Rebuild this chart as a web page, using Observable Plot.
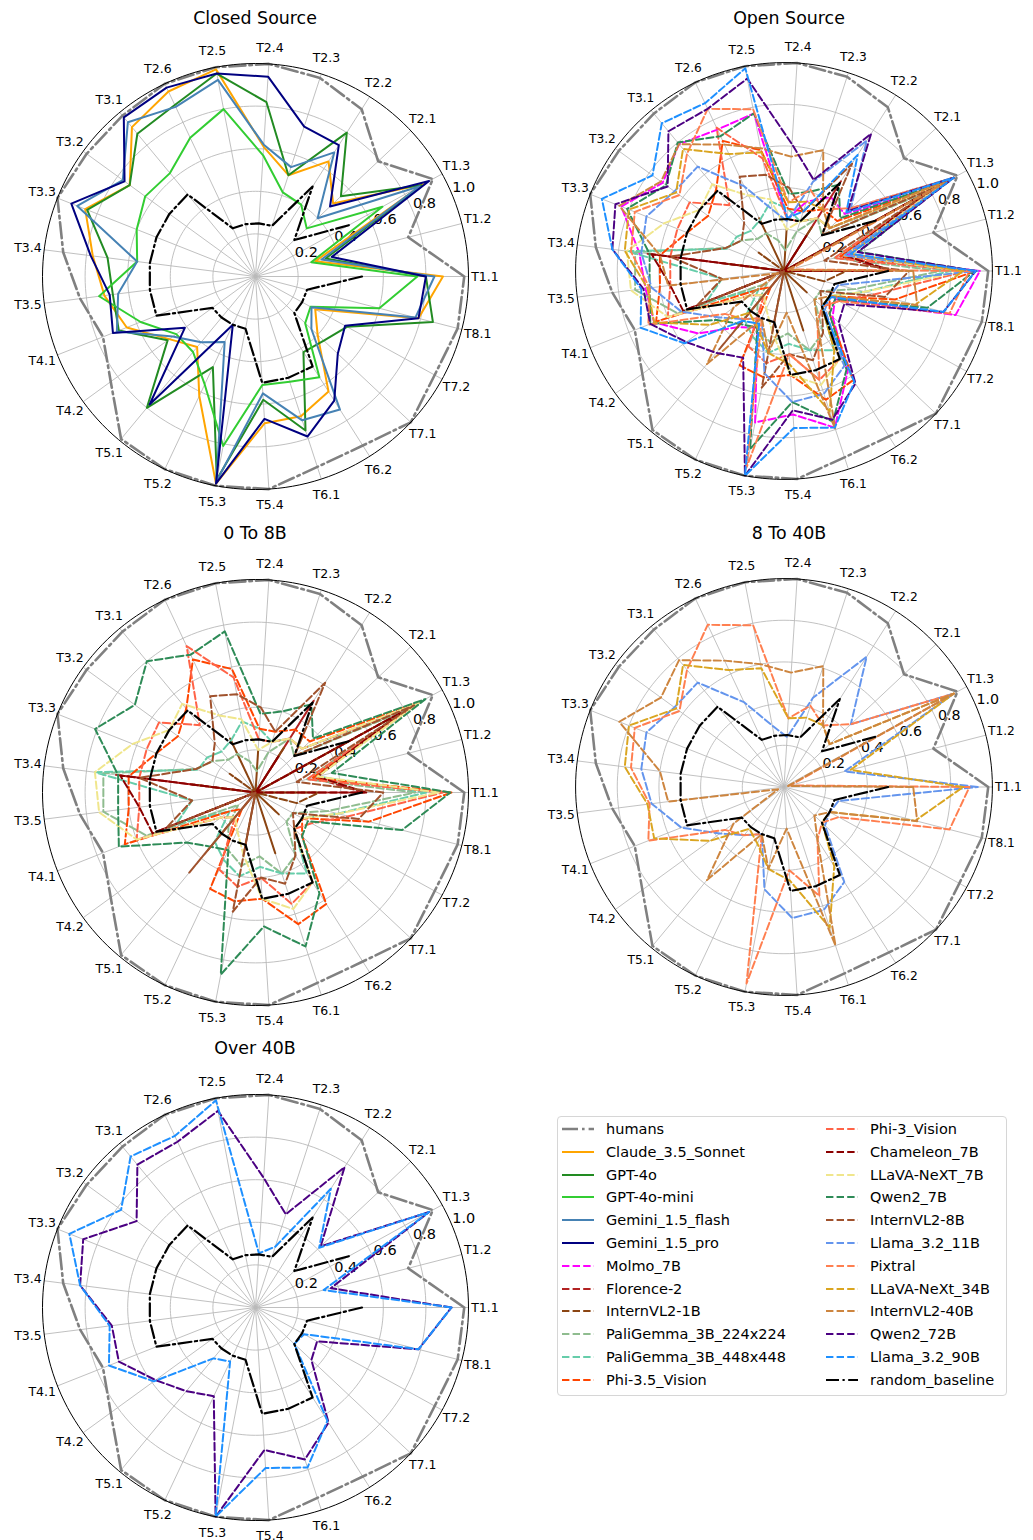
<!DOCTYPE html>
<html>
<head>
<meta charset="utf-8">
<script src="https://cdn.jsdelivr.net/npm/d3@7"></script>
<script src="https://cdn.jsdelivr.net/npm/@observablehq/plot@0.6"></script>
<style>
  body { margin: 0; background: #fff; overflow: hidden; font-family: "DejaVu Sans", sans-serif; }
  #root { position: relative; width: 1033px; height: 1540px; }
  .panel { position: absolute; }
  .title { position: absolute; width: 400px; text-align: center; font-size: 17.4px; line-height: 20px; color: #000; }
  .legend { position: absolute; border: 1px solid #d6d6d6; border-radius: 4px; background: #fff; }
  .lg-item { position: absolute; font-size: 14.5px; line-height: 18px; color: #000; white-space: nowrap; }
  .lg-item svg { position: absolute; left: 0; top: 4px; overflow: visible; }
  .lg-item span { position: absolute; left: 44px; top: 0; }
</style>
</head>
<body>
<div id="root"></div>
<script>
// ---------------- data ----------------
const categories = ["T1.1","T1.2","T1.3","T2.1","T2.2","T2.3","T2.4","T2.5","T2.6","T3.1","T3.2","T3.3","T3.4","T3.5","T4.1","T4.2","T5.1","T5.2","T5.3","T5.4","T6.1","T6.2","T7.1","T7.2","T8.1"];
const radialTicks = [0.2, 0.4, 0.6, 0.8, 1.0];

const humans            = [0.98,0.74,0.95,0.79,0.93,0.98,1.00,1.00,1.00,0.98,0.98,1.00,0.91,0.83,0.77,0.84,0.99,1.00,1.00,1.00,0.94,0.94,1.00,0.96,0.98];
const claude_3_5_sonnet = [0.88,0.29,0.90,0.50,0.64,0.50,0.61,0.99,0.96,0.91,0.73,0.86,0.77,0.715,0.65,0.50,0.43,0.62,0.99,0.69,0.69,0.64,0.40,0.32,0.79];
const gpt_4o            = [0.80,0.34,0.89,0.55,0.80,0.50,0.82,0.97,0.89,0.87,0.73,0.85,0.70,0.675,0.69,0.51,0.80,0.47,0.97,0.58,0.76,0.42,0.44,0.49,0.86];
const gpt_4o_mini       = [0.76,0.27,0.68,0.33,0.40,0.415,0.57,0.80,0.72,0.63,0.64,0.60,0.56,0.74,0.58,0.46,0.46,0.56,0.81,0.51,0.52,0.56,0.32,0.295,0.60];
const gemini_1_5_flash  = [0.84,0.32,0.88,0.40,0.69,0.54,0.62,0.94,0.88,0.94,0.77,0.90,0.56,0.65,0.70,0.48,0.40,0.34,0.98,0.55,0.71,0.74,0.36,0.30,0.775];
const gemini_1_5_pro    = [0.80,0.37,0.93,0.48,0.73,0.74,0.94,0.97,0.98,0.97,0.76,0.93,0.78,0.69,0.72,0.41,0.78,0.25,0.99,0.67,0.79,0.69,0.53,0.48,0.79];
const molmo_7b          = [0.94,0.31,0.85,0.40,0.42,0.35,0.25,0.77,0.75,0.79,0.72,0.84,0.70,0.67,0.67,0.51,0.35,0.30,0.74,0.69,0.79,0.57,0.32,0.28,0.85];
const florence_2        = [0.51,0.28,0.80,0.00,0.51,0.00,0.00,0.00,0.00,0.00,0.00,0.00,0.66,0.00,0.50,0.00,0.00,0.00,0.00,0.00,0.00,0.00,0.00,0.00,0.00];
const internvl2_1b      = [0.30,0.00,0.72,0.00,0.25,0.00,0.20,0.00,0.28,0.00,0.15,0.00,0.30,0.00,0.25,0.00,0.35,0.00,0.30,0.00,0.30,0.00,0.15,0.00,0.20];
const paligemma_224     = [0.75,0.25,0.80,0.25,0.30,0.20,0.10,0.15,0.20,0.20,0.25,0.30,0.72,0.72,0.55,0.10,0.20,0.30,0.35,0.30,0.40,0.35,0.20,0.20,0.35];
const paligemma_448     = [0.80,0.30,0.82,0.30,0.30,0.25,0.30,0.34,0.27,0.25,0.28,0.29,0.76,0.30,0.40,0.15,0.30,0.35,0.40,0.35,0.40,0.45,0.25,0.25,0.40];
const phi_3_5_vision    = [0.92,0.28,0.88,0.35,0.35,0.30,0.30,0.59,0.69,0.51,0.45,0.50,0.60,0.60,0.66,0.15,0.10,0.50,0.52,0.50,0.65,0.62,0.30,0.25,0.55];
const phi_3_vision      = [0.88,0.25,0.85,0.30,0.30,0.25,0.25,0.55,0.76,0.41,0.56,0.55,0.55,0.55,0.60,0.20,0.15,0.40,0.45,0.40,0.55,0.50,0.25,0.30,0.45];
const chameleon_7b      = [0.52,0.30,0.78,0.00,0.20,0.00,0.00,0.00,0.00,0.00,0.00,0.00,0.64,0.55,0.52,0.00,0.00,0.00,0.00,0.00,0.00,0.00,0.00,0.00,0.00];
const llava_next_7b     = [0.86,0.30,0.88,0.30,0.30,0.25,0.20,0.35,0.40,0.54,0.50,0.62,0.76,0.74,0.60,0.20,0.15,0.20,0.30,0.50,0.575,0.50,0.25,0.25,0.40];
const qwen2_7b          = [0.915,0.37,0.91,0.37,0.49,0.40,0.37,0.77,0.715,0.80,0.70,0.81,0.65,0.65,0.69,0.40,0.33,0.30,0.87,0.63,0.76,0.56,0.30,0.28,0.71];
const internvl2_8b      = [0.60,0.20,0.85,0.25,0.61,0.30,0.40,0.47,0.50,0.30,0.25,0.30,0.55,0.30,0.45,0.00,0.49,0.00,0.57,0.40,0.45,0.35,0.25,0.20,0.50];
const llama_3_2_11b     = [0.93,0.30,0.93,0.44,0.74,0.45,0.24,0.30,0.45,0.65,0.65,0.71,0.69,0.64,0.53,0.38,0.30,0.25,0.50,0.63,0.62,0.54,0.27,0.25,0.27];
const pixtral           = [0.89,0.03,0.93,0.44,0.35,0.41,0.33,0.79,0.86,0.73,0.62,0.77,0.74,0.65,0.70,0.35,0.30,0.25,0.96,0.40,0.55,0.30,0.25,0.30,0.82];
const llava_next_34b    = [0.86,0.33,0.93,0.30,0.35,0.35,0.33,0.58,0.62,0.76,0.64,0.80,0.77,0.66,0.67,0.44,0.26,0.30,0.40,0.45,0.71,0.45,0.25,0.25,0.65];
const internvl2_40b     = [0.62,0.02,0.93,0.30,0.35,0.61,0.55,0.60,0.67,0.79,0.73,0.85,0.60,0.56,0.03,0.30,0.58,0.25,0.40,0.20,0.80,0.30,0.20,0.25,0.66];
const qwen2_72b         = [0.92,0.365,0.93,0.42,0.78,0.46,0.61,0.94,0.86,0.87,0.69,0.87,0.83,0.68,0.69,0.58,0.51,0.46,1.00,0.67,0.75,0.64,0.36,0.33,0.79];
const llama_3_2_90b     = [0.92,0.33,0.93,0.41,0.66,0.30,0.255,0.99,0.89,0.92,0.78,0.94,0.83,0.69,0.74,0.59,0.31,0.28,1.00,0.755,0.79,0.63,0.25,0.26,0.79];
const random_baseline   = [0.50,null,0.50,0.25,0.50,0.25,0.25,0.25,0.25,0.50,0.50,0.50,0.50,0.50,0.50,0.25,0.25,0.25,0.25,0.50,0.50,0.50,0.25,0.25,0.25];

const seriesValues = {
  "humans": humans,
  "Claude_3.5_Sonnet": claude_3_5_sonnet,
  "GPT-4o": gpt_4o,
  "GPT-4o-mini": gpt_4o_mini,
  "Gemini_1.5_flash": gemini_1_5_flash,
  "Gemini_1.5_pro": gemini_1_5_pro,
  "Molmo_7B": molmo_7b,
  "Florence-2": florence_2,
  "InternVL2-1B": internvl2_1b,
  "PaliGemma_3B_224x224": paligemma_224,
  "PaliGemma_3B_448x448": paligemma_448,
  "Phi-3.5_Vision": phi_3_5_vision,
  "Phi-3_Vision": phi_3_vision,
  "Chameleon_7B": chameleon_7b,
  "LLaVA-NeXT_7B": llava_next_7b,
  "Qwen2_7B": qwen2_7b,
  "InternVL2-8B": internvl2_8b,
  "Llama_3.2_11B": llama_3_2_11b,
  "Pixtral": pixtral,
  "LLaVA-NeXt_34B": llava_next_34b,
  "InternVL2-40B": internvl2_40b,
  "Qwen2_72B": qwen2_72b,
  "Llama_3.2_90B": llama_3_2_90b,
  "random_baseline": random_baseline
};
const legendOrder = Object.keys(seriesValues);

// panel membership
const closedModels = ["Claude_3.5_Sonnet","GPT-4o","GPT-4o-mini","Gemini_1.5_flash","Gemini_1.5_pro"];
const small = ["Florence-2","InternVL2-1B","PaliGemma_3B_224x224","PaliGemma_3B_448x448","Phi-3.5_Vision","Phi-3_Vision","Chameleon_7B","LLaVA-NeXT_7B","Qwen2_7B","InternVL2-8B"];
const medium = ["Llama_3.2_11B","Pixtral","LLaVA-NeXt_34B","InternVL2-40B"];
const large = ["Qwen2_72B","Llama_3.2_90B"];
const openModels = ["Molmo_7B", ...small, ...medium, ...large];

// ---------------- styles ----------------
const colors = {
  "humans": "#808080", "Claude_3.5_Sonnet": "#FFA500", "GPT-4o": "#228B22", "GPT-4o-mini": "#32CD32",
  "Gemini_1.5_flash": "#4682B4", "Gemini_1.5_pro": "#000080", "Molmo_7B": "#FF00FF", "Florence-2": "#B22222",
  "InternVL2-1B": "#8B4513", "PaliGemma_3B_224x224": "#8FBC8F", "PaliGemma_3B_448x448": "#66CDAA",
  "Phi-3.5_Vision": "#FF4500", "Phi-3_Vision": "#FF6347", "Chameleon_7B": "#8B0000", "LLaVA-NeXT_7B": "#F0E68C",
  "Qwen2_7B": "#2E8B57", "InternVL2-8B": "#A0522D", "Llama_3.2_11B": "#6495ED", "Pixtral": "#FF7F50",
  "LLaVA-NeXt_34B": "#DAA520", "InternVL2-40B": "#CD853F", "Qwen2_72B": "#4B0082", "Llama_3.2_90B": "#1E90FF",
  "random_baseline": "#000000"
};
function styleOf(name) {
  if (name === "humans") return {strokeWidth: 2.6, strokeDasharray: "16,4,2.6,4"};
  if (name === "random_baseline") return {strokeWidth: 2.2, strokeDasharray: "13,3.5,2.2,3.5"};
  if (closedModels.includes(name)) return {strokeWidth: 2, strokeDasharray: null};
  return {strokeWidth: 2, strokeDasharray: "7.4,3.2"};
}

// ---------------- geometry ----------------
const N = categories.length;
const ang = k => k * 2 * Math.PI / N;
const RPX = 213;          // pixel radius of r = 1
const HALF = 255;         // half size of each panel svg
const EXT = HALF / RPX;

function seriesRows(name) {
  const v = seriesValues[name];
  const rows = [];
  for (let i = 0; i <= N; i++) {
    const k = i % N, val = v[k];
    const ok = val !== null && val !== undefined;
    rows.push({k, x: ok ? val * Math.cos(ang(k)) : NaN, y: ok ? val * Math.sin(ang(k)) : NaN});
  }
  return rows;
}
function ringRows(r) {
  return d3.range(0, 361, 2).map(t => ({r, x: r * Math.cos(t * Math.PI / 180), y: r * Math.sin(t * Math.PI / 180)}));
}

function radar(names) {
  const rings = radialTicks.slice(0, -1).flatMap(ringRows);
  const gridColor = "#b9b9b9";
  const marks = [
    Plot.line(rings, {x: "x", y: "y", z: "r", stroke: gridColor, strokeWidth: 0.9}),
    Plot.link(categories, {x1: () => 0, y1: () => 0, x2: (d, k) => Math.cos(ang(k)), y2: (d, k) => Math.sin(ang(k)), stroke: gridColor, strokeWidth: 0.9}),
    Plot.text(categories, {x: (d, k) => 1.077 * Math.cos(ang(k)), y: (d, k) => 1.077 * Math.sin(ang(k)), text: d => d, fontSize: 12.5, fill: "#000"}),
    Plot.text(radialTicks, {x: d => d * Math.cos(Math.PI / 8), y: d => d * Math.sin(Math.PI / 8), text: d => d.toFixed(1), textAnchor: "start", dy: -8, fontSize: 14.5, fill: "#000"})
  ];
  for (const name of ["humans", ...names, "random_baseline"]) {
    const s = styleOf(name);
    marks.push(Plot.line(seriesRows(name), {x: "x", y: "y", stroke: colors[name], strokeWidth: s.strokeWidth, strokeDasharray: s.strokeDasharray, curve: "linear"}));
  }
  marks.push(Plot.line(ringRows(1), {x: "x", y: "y", stroke: "#000", strokeWidth: 1}));
  return Plot.plot({
    width: 2 * HALF, height: 2 * HALF, margin: 0,
    x: {domain: [-EXT, EXT], axis: null},
    y: {domain: [-EXT, EXT], axis: null},
    style: {fontFamily: "'DejaVu Sans', sans-serif", background: "transparent", overflow: "visible"},
    marks
  });
}

// ---------------- layout ----------------
const panels = [
  {title: "Closed Source", cx: 255, cy: 276, ty: 18,   names: closedModels},
  {title: "Open Source",   cx: 789, cy: 276, ty: 18,   names: openModels},
  {title: "0 To 8B",       cx: 255, cy: 792, ty: 533,  names: small},
  {title: "8 To 40B",      cx: 789, cy: 792, ty: 533,  names: medium},
  {title: "Over 40B",      cx: 255, cy: 1307, ty: 1048, names: large}
];
const root = document.getElementById("root");
for (const p of panels) {
  const wrap = document.createElement("div");
  wrap.className = "panel";
  wrap.style.left = (p.cx - HALF) + "px";
  wrap.style.top = (p.cy - HALF) + "px";
  wrap.appendChild(radar(p.names));
  root.appendChild(wrap);
  const t = document.createElement("div");
  t.className = "title";
  t.textContent = p.title;
  t.style.left = (p.cx - 200) + "px";
  t.style.top = (p.ty - 10) + "px";
  root.appendChild(t);
}

// legend
const legend = document.createElement("div");
legend.className = "legend";
Object.assign(legend.style, {left: "557px", top: "1116px", width: "448px", height: "278px"});
root.appendChild(legend);
const perCol = 12;
legendOrder.forEach((name, i) => {
  const col = Math.floor(i / perCol), row = i % perCol;
  const item = document.createElement("div");
  item.className = "lg-item";
  item.style.left = (4 + col * 264) + "px";
  item.style.top = (3 + row * 22.8) + "px";
  const s = styleOf(name);
  item.innerHTML = `<svg width="32" height="10"><line x1="0" y1="5" x2="32" y2="5" stroke="${colors[name]}" stroke-width="${s.strokeWidth}" ${s.strokeDasharray ? `stroke-dasharray="${s.strokeDasharray}"` : ""}/></svg><span></span>`;
  item.querySelector("span").textContent = name;
  legend.appendChild(item);
});
</script>
</body>
</html>
